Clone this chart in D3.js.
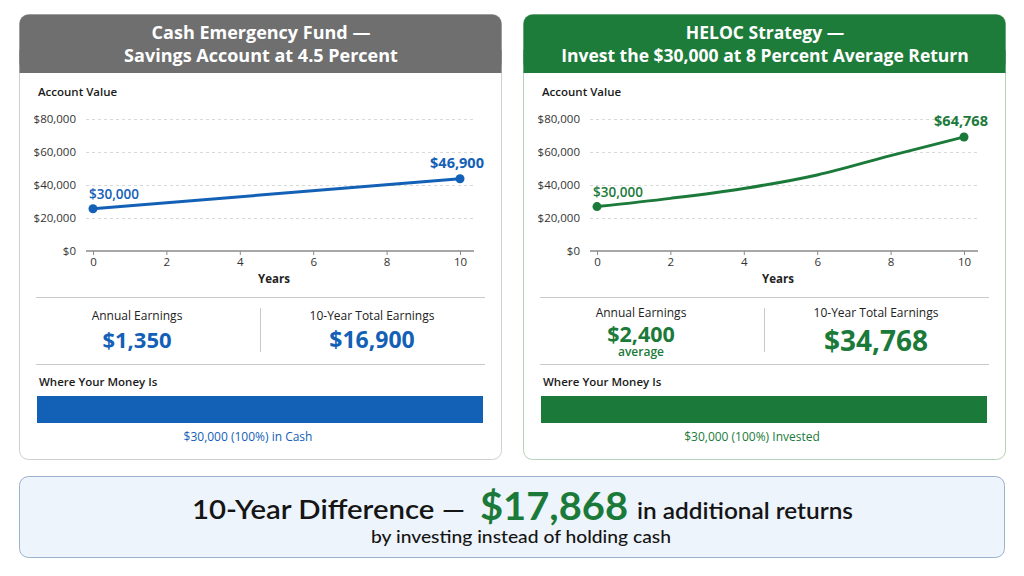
<!DOCTYPE html>
<html>
<head>
<meta charset="utf-8">
<script src="https://cdn.jsdelivr.net/npm/d3@7"></script>
<style>
  body { margin: 0; background: #fff; }
  svg { display: block; font-family: "Open Sans", "Noto Sans", sans-serif; }
</style>
</head>
<body>
<div id="chart"></div>
<script>
// values
var cashYears = [0, 10]
var cashValues = [25600, 43800]
var investYears = [0, 2, 4, 6, 8, 10]
var investValues = [26900, 31900, 37900, 46100, 57800, 69100]
var yTicks = [0, 20000, 40000, 60000, 80000]
var xTicks = [0, 2, 4, 6, 8, 10]
var cashEndLabels = ['$30,000', '$46,900']
var investEndLabels = ['$30,000', '$64,768']
var titles = [['Cash Emergency Fund \u2014', 'Savings Account at 4.5 Percent'],
              ['HELOC Strategy \u2014', 'Invest the $30,000 at 8 Percent Average Return']]
var annualEarnings = ['$1,350', '$2,400']
var totalEarnings = ['$16,900', '$34,768']
var allocation = [30000, 30000]
var allocationLabels = ['$30,000 (100%) in Cash', '$30,000 (100%) Invested']
var difference = '$17,868'

var width = 1024
var height = 576

var svg = d3.select('#chart')
  .append('svg')
  .attr('width', width)
  .attr('height', height)

function drawPanel (opts) {
  var ox = opts.x
  var g = svg.append('g').attr('transform', 'translate(' + ox + ',0)')

  // card + header
  g.append('rect')
    .attr('x', 0.5).attr('y', 14.5)
    .attr('width', opts.w).attr('height', 445)
    .attr('rx', 9)
    .attr('fill', '#fff')
    .attr('stroke', opts.border)
  g.append('rect')
    .attr('x', 0.5).attr('y', 14.5)
    .attr('width', opts.w).attr('height', 58)
    .attr('rx', 9)
    .attr('fill', opts.header)
  g.append('rect')
    .attr('x', 0.5).attr('y', 50)
    .attr('width', opts.w).attr('height', 23)
    .attr('fill', opts.header)

  g.selectAll('text.title')
    .data(opts.title)
    .enter().append('text')
    .attr('class', 'title')
    .attr('x', opts.w / 2 + 1)
    .attr('y', function (d, i) { return 39 + i * 23 })
    .attr('text-anchor', 'middle')
    .attr('fill', '#fff')
    .attr('font-size', opts.titleSize)
    .attr('font-weight', 700)
    .text(function (d) { return d })

  g.append('text')
    .attr('x', 19).attr('y', 96)
    .attr('font-size', 11.5)
    .attr('font-weight', 600)
    .attr('fill', '#1a1a1a')
    .text('Account Value')

  var x = d3.scaleLinear().domain([0, 10]).range([74, 441])
  var y = d3.scaleLinear().domain([0, 80000]).range([251, 119])

  // y axis + dashed grid
  var yAxis = g.append('g')
    .attr('transform', 'translate(67,0)')
    .call(d3.axisLeft(y)
      .tickValues(yTicks)
      .tickSize(-(388))
      .tickPadding(10)
      .tickFormat(function (d) { return '$' + d3.format(',')(d) }))
  yAxis.select('.domain').remove()
  yAxis.selectAll('line')
    .attr('stroke', '#d8d8d8')
    .attr('stroke-dasharray', '3,3')
  yAxis.selectAll('text')
    .attr('font-size', 11.5)
    .attr('fill', '#333')
    .attr('font-family', '"Open Sans", sans-serif')
  yAxis.selectAll('.tick').filter(function (d) { return d === 0 }).select('line').remove()

  var xAxis = g.append('g')
    .attr('transform', 'translate(0,251)')
    .call(d3.axisBottom(x).tickValues(xTicks).tickSize(4).tickPadding(3))
  xAxis.select('.domain')
    .attr('d', 'M67,0H455')
    .attr('stroke', '#8a8a8a')
    .attr('stroke-width', 1.5)
  xAxis.selectAll('line').attr('stroke', '#8a8a8a')
  xAxis.selectAll('text')
    .attr('font-size', 11.5)
    .attr('fill', '#333')
    .attr('font-family', '"Open Sans", sans-serif')

  g.append('text')
    .attr('x', 255).attr('y', 283)
    .attr('text-anchor', 'middle')
    .attr('font-size', 11.5)
    .attr('font-weight', 700)
    .attr('fill', '#222')
    .text('Years')

  var pts = opts.years.map(function (d, i) { return [d, opts.values[i]] })
  var line = d3.line()
    .x(function (d) { return x(d[0]) })
    .y(function (d) { return y(d[1]) })
    .curve(d3.curveMonotoneX)

  g.append('path')
    .datum(pts)
    .attr('d', line)
    .attr('fill', 'none')
    .attr('stroke', opts.color)
    .attr('stroke-width', 3)

  var ends = [pts[0], pts[pts.length - 1]]
  g.selectAll('circle.end')
    .data(ends)
    .enter().append('circle')
    .attr('class', 'end')
    .attr('cx', function (d) { return x(d[0]) })
    .attr('cy', function (d) { return y(d[1]) })
    .attr('r', 4.5)
    .attr('fill', opts.color)

  g.append('text')
    .attr('x', x(ends[0][0]) - 4)
    .attr('y', y(ends[0][1]) - 10)
    .attr('font-size', 13.5)
    .attr('font-weight', 600)
    .attr('fill', opts.color)
    .text(opts.endLabels[0])
  g.append('text')
    .attr('x', x(ends[1][0]) - 3)
    .attr('y', y(ends[1][1]) - 11)
    .attr('text-anchor', 'middle')
    .attr('font-size', 14.5)
    .attr('font-weight', 700)
    .attr('fill', opts.color)
    .text(opts.endLabels[1])

  // stats
  g.selectAll('line.sep')
    .data([297.5, 364.5])
    .enter().append('line')
    .attr('class', 'sep')
    .attr('x1', 17).attr('x2', 466)
    .attr('y1', function (d) { return d })
    .attr('y2', function (d) { return d })
    .attr('stroke', '#c9c9c9')
  g.append('line')
    .attr('x1', 241.5).attr('x2', 241.5)
    .attr('y1', 308).attr('y2', 352)
    .attr('stroke', '#c9c9c9')

  g.selectAll('text.statlabel')
    .data([[118, 'Annual Earnings'], [353, '10-Year Total Earnings']])
    .enter().append('text')
    .attr('class', 'statlabel')
    .attr('x', function (d) { return d[0] })
    .attr('y', opts.labelY)
    .attr('text-anchor', 'middle')
    .attr('font-size', 12)
    .attr('font-weight', 500)
    .attr('fill', '#222')
    .text(function (d) { return d[1] })
  g.append('text')
    .attr('x', 118).attr('y', opts.annualY)
    .attr('text-anchor', 'middle')
    .attr('font-size', opts.annualSize)
    .attr('font-weight', 700)
    .attr('fill', opts.color)
    .text(opts.annual)
  if (opts.note) {
    g.append('text')
      .attr('x', 118).attr('y', 356)
      .attr('text-anchor', 'middle')
      .attr('font-size', 12)
      .attr('font-weight', 600)
      .attr('fill', opts.color)
      .text(opts.note)
  }
  g.append('text')
    .attr('x', 353).attr('y', opts.totalY)
    .attr('text-anchor', 'middle')
    .attr('font-size', opts.totalSize)
    .attr('font-weight', 700)
    .attr('fill', opts.color)
    .text(opts.total)

  g.append('text')
    .attr('x', 20).attr('y', 386)
    .attr('font-size', 11.5)
    .attr('font-weight', 600)
    .attr('fill', '#1a1a1a')
    .text('Where Your Money Is')

  var xb = d3.scaleLinear().domain([0, 30000]).range([18, 464])
  g.selectAll('rect.alloc')
    .data([opts.alloc])
    .enter().append('rect')
    .attr('class', 'alloc')
    .attr('x', xb(0))
    .attr('y', 396)
    .attr('width', function (d) { return xb(d) - xb(0) })
    .attr('height', 27)
    .attr('fill', opts.color)

  g.append('text')
    .attr('x', 229).attr('y', 441)
    .attr('text-anchor', 'middle')
    .attr('font-size', 12)
    .attr('font-weight', 500)
    .attr('fill', opts.color)
    .text(opts.allocLabel)
}

drawPanel({
  x: 19, w: 482, titleSize: 18,
  header: '#6f6f6f', border: '#cfcfcf', color: '#1360b7',
  title: titles[0],
  years: cashYears, values: cashValues, endLabels: cashEndLabels,
  labelY: 320, annual: annualEarnings[0], annualY: 348, annualSize: 22,
  total: totalEarnings[0], totalY: 348, totalSize: 23,
  alloc: allocation[0], allocLabel: allocationLabels[0]
})

drawPanel({
  x: 523, w: 482, titleSize: 17.5,
  header: '#1e7c3b', border: '#b7d1bb', color: '#1b7a3a',
  title: titles[1],
  years: investYears, values: investValues, endLabels: investEndLabels,
  labelY: 317, annualY: 342, annualSize: 21.5, annual: annualEarnings[1], note: 'average',
  total: totalEarnings[1], totalY: 351, totalSize: 28,
  alloc: allocation[1], allocLabel: allocationLabels[1]
})

// bottom summary box
svg.append('rect')
  .attr('x', 19.5).attr('y', 476.5)
  .attr('width', 985).attr('height', 81)
  .attr('rx', 9)
  .attr('fill', '#eef4fb')
  .attr('stroke', '#9bb2cc')

var bottom = svg.append('g').attr('font-family', 'Lato, "Open Sans", sans-serif')
bottom.append('text')
  .attr('x', 192).attr('y', 519)
  .attr('font-size', 27)
  .attr('font-weight', 600)
  .attr('fill', '#151515')
  .attr('textLength', 273)
  .attr('lengthAdjust', 'spacingAndGlyphs')
  .text('10-Year Difference \u2014')
bottom.append('text')
  .attr('x', 480).attr('y', 520)
  .attr('font-size', 38)
  .attr('font-weight', 700)
  .attr('fill', '#1b7a3a')
  .attr('textLength', 148)
  .attr('lengthAdjust', 'spacingAndGlyphs')
  .text(difference)
bottom.append('text')
  .attr('x', 637).attr('y', 519)
  .attr('font-size', 23)
  .attr('font-weight', 600)
  .attr('fill', '#151515')
  .attr('textLength', 216)
  .attr('lengthAdjust', 'spacingAndGlyphs')
  .text('in additional returns')
bottom.append('text')
  .attr('x', 521).attr('y', 543)
  .attr('text-anchor', 'middle')
  .attr('font-size', 18)
  .attr('font-weight', 500)
  .attr('fill', '#151515')
  .attr('textLength', 300)
  .attr('lengthAdjust', 'spacingAndGlyphs')
  .text('by investing instead of holding cash')
</script>
</body>
</html>
